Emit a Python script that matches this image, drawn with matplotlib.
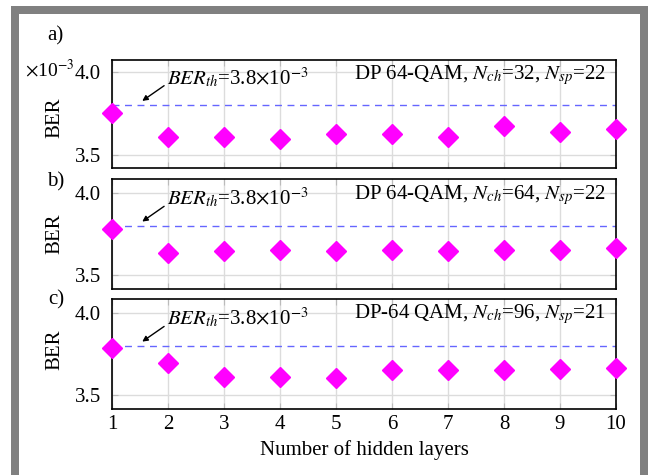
import matplotlib
matplotlib.use("Agg")
import matplotlib.pyplot as plt
from matplotlib.patches import Rectangle

plt.rcParams['font.family'] = ['Liberation Serif', 'DejaVu Serif']
plt.rcParams['mathtext.fontset'] = 'stix'
plt.rcParams['font.size'] = 15

layers = [1, 2, 3, 4, 5, 6, 7, 8, 9, 10]
ber_a = [3.753, 3.608, 3.608, 3.598, 3.626, 3.625, 3.607, 3.675, 3.640, 3.658]
ber_b = [3.778, 3.633, 3.645, 3.653, 3.647, 3.653, 3.650, 3.653, 3.653, 3.663]
ber_c = [3.786, 3.697, 3.613, 3.613, 3.605, 3.653, 3.653, 3.653, 3.661, 3.665]
ber_th = 3.8
panel_labels = ['a)', 'b)', 'c)']
titles = ['DP 64-QAM, $N_{ch}$=32, $N_{sp}$=22',
          'DP 64-QAM, $N_{ch}$=64, $N_{sp}$=22',
          'DP-64 QAM, $N_{ch}$=96, $N_{sp}$=21']
yticks = [3.5, 4.0]

W, H = 658, 475
FS = 15
fig = plt.figure(figsize=(W / 100, H / 100), dpi=100)

# gray frame
fig.patches.append(Rectangle((15 / W, -0.02), (643.5 - 15) / W, 1 - 10 / H + 0.02,
                             transform=fig.transFigure, fill=False,
                             edgecolor='#808080', linewidth=8 * 0.72, zorder=0))

boxes = [(60, 168), (179.3, 288.7), (299, 409)]
left, right = 112, 616
series = [ber_a, ber_b, ber_c]
ylims = [(3.42, 4.072), (3.42, 4.08), (3.417, 4.083)]

axes = []
for i, (top, bot) in enumerate(boxes):
    ax = fig.add_axes([left / W, 1 - bot / H, (right - left) / W, (bot - top) / H])
    axes.append(ax)
    ax.set_xlim(1, 10)
    ax.set_ylim(*ylims[i])
    ax.set_yticks(yticks)
    ax.set_yticklabels(['3.5', '4.0'])
    ax.set_xticks(layers)
    ax.grid(True, color='#dcdcdc', linewidth=1)
    ax.set_axisbelow(True)
    for s in ax.spines.values():
        s.set_linewidth(1.2)
        s.set_color('black')
        s.set_zorder(5)
    ax.tick_params(direction='in', length=4, color='#bbbbbb', top=True, right=True,
                   labelsize=FS, pad=4)
    ax.tick_params(axis='y', pad=8)
    if i < 2:
        ax.set_xticklabels([])
    ax.axhline(ber_th, color='#6666ff', linestyle=(0, (5, 4)), linewidth=1, zorder=2)
    ax.plot(layers, series[i], linestyle='none', marker='D', markersize=10,
            color='#ff00ff', clip_on=False, zorder=6)
    ax.text(0.98, 0.86, titles[i], transform=ax.transAxes, ha='right', va='center',
            fontsize=FS)
    ax.annotate(r'$BER_{th}$=3.8$\times$10$^{-3}$', xy=(1.54, 3.825),
                xytext=(1.98, 3.965), ha='left', va='center', fontsize=FS,
                arrowprops=dict(arrowstyle='-|>', color='black', lw=1,
                                mutation_scale=8, shrinkA=0, shrinkB=0,
                                relpos=(0.0, 0.25)))
    cy = (top + bot) / 2
    fig.text(55 / W, 1 - (cy + 4 * (1 - i)) / H, 'BER', rotation=90, ha='center',
             va='center', fontsize=FS)

fig.text(55 / W, 1 - 36 / H, panel_labels[0], ha='center', va='center', fontsize=FS)
fig.text(56 / W, 1 - 182 / H, panel_labels[1], ha='center', va='center', fontsize=FS)
fig.text(56 / W, 1 - 300 / H, panel_labels[2], ha='center', va='center', fontsize=FS)
fig.text(74 / W, 1 - 70 / H, r'$\times$10$^{-3}$', ha='right', va='center', fontsize=14)
fig.text(364 / W, 1 - 450 / H, 'Number of hidden layers', ha='center', va='center',
         fontsize=FS)

fig.savefig('out.png', dpi=100)
